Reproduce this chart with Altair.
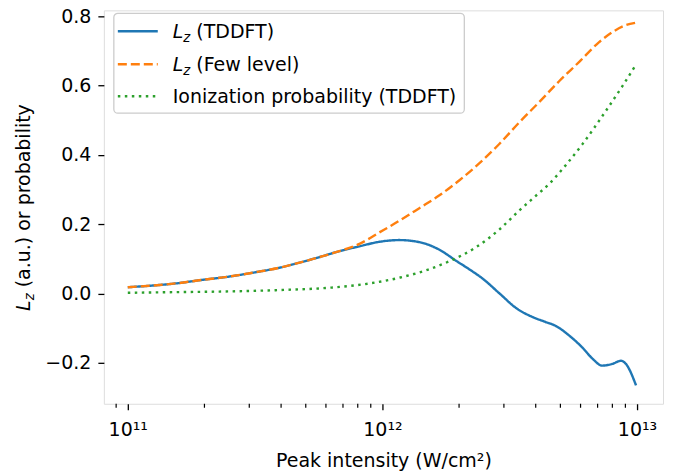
import altair as alt
import pandas as pd

# ---- data (x given as log10 of peak intensity in W/cm^2) ----
tddft_logI = [11.0, 11.1, 11.2, 11.28, 11.4, 11.5, 11.6, 11.675, 11.753, 11.831, 11.91, 11.988,
              12.067, 12.145, 12.224, 12.29, 12.353, 12.39, 12.46, 12.525, 12.59, 12.64,
              12.682, 12.733, 12.784, 12.825, 12.863, 12.903, 12.937, 12.956, 12.996]
tddft_Lz = [0.018, 0.023, 0.030, 0.038, 0.049, 0.061, 0.075, 0.089, 0.105, 0.122, 0.136, 0.149,
            0.154, 0.148, 0.126, 0.094, 0.064, 0.045, 0.000, -0.042, -0.068, -0.082,
            -0.094, -0.121, -0.155, -0.188, -0.208, -0.203, -0.194, -0.203, -0.265]

few_logI = [11.0, 11.1, 11.2, 11.28, 11.4, 11.5, 11.6, 11.675, 11.753, 11.831, 11.91, 11.988,
            12.067, 12.145, 12.224, 12.30, 12.38, 12.459, 12.537, 12.616, 12.694, 12.773,
            12.85, 12.9, 12.95, 12.996]
few_Lz = [0.018, 0.023, 0.030, 0.038, 0.049, 0.061, 0.075, 0.089, 0.105, 0.122, 0.143, 0.176,
          0.210, 0.246, 0.283, 0.325, 0.375, 0.431, 0.493, 0.552, 0.612, 0.668,
          0.724, 0.752, 0.772, 0.781]

ion_logI = [11.0, 11.2, 11.4, 11.6, 11.8, 11.95, 12.07, 12.18, 12.263, 12.367, 12.46, 12.537,
            12.6, 12.655, 12.72, 12.785, 12.878, 12.94, 12.996]
ion_P = [0.002, 0.004, 0.006, 0.010, 0.017, 0.029, 0.046, 0.069, 0.093, 0.133, 0.185, 0.239,
         0.280, 0.316, 0.370, 0.430, 0.527, 0.595, 0.660]

major_ticks = [1e11, 1e12, 1e13]
major_labels = ["10\u00b9\u00b9", "10\u00b9\u00b2", "10\u00b9\u00b3"]
minor_ticks = [9e10] + [k * 1e11 for k in range(2, 10)] + [k * 1e12 for k in range(2, 10)]
y_ticks = [-0.2, 0.0, 0.2, 0.4, 0.6, 0.8]

x_domain = [10 ** 10.906, 10 ** 13.102]
y_domain = [-0.318, 0.8164]

legend_suffix = ["(TDDFT)", "(Few level)", "Ionization probability (TDDFT)"]
colors = ["#1f77b4", "#ff7f0e", "#2ca02c"]
dashes = [[1, 0], [9, 4], [2.5, 4.5]]

FONT = "DejaVu Sans"
FS = 19

W, H = 560, 394

def frame(logI, vals):
    return pd.DataFrame({"I": [10 ** v for v in logI], "v": vals})

label_expr = "datum.value < 3e11 ? '%s' : datum.value < 3e12 ? '%s' : '%s'" % tuple(major_labels)

xscale = alt.Scale(type="log", domain=x_domain, nice=False)
yscale = alt.Scale(domain=y_domain, nice=False, zero=False)

xaxis = alt.Axis(values=major_ticks, labelExpr=label_expr, title="Peak intensity (W/cm\u00b2)",
                 titleFont=FONT, titleFontSize=FS, titleFontWeight="normal", titleColor="black",
                 labelFont=FONT, labelFontSize=FS, labelColor="black", labelFlush=False,
                 labelPadding=11, titlePadding=12, tickSize=6, tickColor="black", tickWidth=1.3,
                 domain=False, grid=False)
yaxis = alt.Axis(values=y_ticks, format=".1f", title=None, tickSize=6, labelPadding=7,
                 labelFont=FONT, labelFontSize=FS, labelColor="black", labelFlush=False,
                 tickColor="black", tickWidth=1.3, domain=False, grid=False)

layers = []
datasets = [(tddft_logI, tddft_Lz), (few_logI, few_Lz), (ion_logI, ion_P)]
for i, (lx, vals) in enumerate(datasets):
    layers.append(
        alt.Chart(frame(lx, vals)).mark_line(
            color=colors[i], strokeWidth=2.4, strokeDash=dashes[i], interpolate="monotone",
            strokeCap="butt"
        ).encode(x=alt.X("I:Q", scale=xscale, axis=xaxis),
                 y=alt.Y("v:Q", scale=yscale, axis=yaxis))
    )

# minor ticks on the log axis
minor_df = pd.DataFrame({"I": minor_ticks})
layers.append(
    alt.Chart(minor_df).mark_rule(color="black", strokeWidth=1.2).encode(
        x=alt.X("I:Q", scale=xscale, axis=xaxis), y=alt.value(H), y2=alt.value(H + 4)
    )
)

one = pd.DataFrame({"k": [0]})

# legend box
layers.append(
    alt.Chart(one).mark_rect(fill="white", fillOpacity=0.8, stroke="#cccccc", strokeWidth=1.3,
                             cornerRadius=4).encode(
        x=alt.value(10), x2=alt.value(361), y=alt.value(3), y2=alt.value(103)
    )
)
row_y = [21, 54, 86]
for i in range(3):
    layers.append(
        alt.Chart(one).mark_rule(color=colors[i], strokeWidth=2.4, strokeDash=dashes[i],
                                 strokeCap="butt").encode(
            x=alt.value(14), x2=alt.value(54), y=alt.value(row_y[i])
        )
    )
    base_y = row_y[i] + 7
    if i < 2:
        layers.append(alt.Chart(one).mark_text(text="L", font=FONT, fontSize=FS, fontStyle="italic",
                                               align="left", baseline="alphabetic", color="black")
                      .encode(x=alt.value(69), y=alt.value(base_y)))
        layers.append(alt.Chart(one).mark_text(text="z", font=FONT, fontSize=13.3, fontStyle="italic",
                                               align="left", baseline="alphabetic", color="black", dy=4)
                      .encode(x=alt.value(69 + 10.6), y=alt.value(base_y)))
        layers.append(alt.Chart(one).mark_text(text=legend_suffix[i], font=FONT, fontSize=FS,
                                               align="left", baseline="alphabetic", color="black")
                      .encode(x=alt.value(69 + 10.6 + 7 + 6), y=alt.value(base_y)))
    else:
        layers.append(alt.Chart(one).mark_text(text=legend_suffix[i], font=FONT, fontSize=FS,
                                               align="left", baseline="alphabetic", color="black")
                      .encode(x=alt.value(69), y=alt.value(base_y)))

# y-axis title with italic L and subscript z
yt_x, yt_y = -74, 301
layers.append(alt.Chart(one).mark_text(text="L", font=FONT, fontSize=FS, fontStyle="italic", angle=270,
                                       align="left", baseline="alphabetic", color="black")
              .encode(x=alt.value(yt_x), y=alt.value(yt_y)))
layers.append(alt.Chart(one).mark_text(text="z", font=FONT, fontSize=13.3, fontStyle="italic", angle=270,
                                       align="left", baseline="alphabetic", color="black", dx=10.6, dy=4)
              .encode(x=alt.value(yt_x), y=alt.value(yt_y)))
layers.append(alt.Chart(one).mark_text(text="(a.u.) or probability", font=FONT, fontSize=FS, angle=270,
                                       align="left", baseline="alphabetic", color="black", dx=23.6)
              .encode(x=alt.value(yt_x), y=alt.value(yt_y)))

chart = alt.layer(*layers).properties(
    width=W, height=H,
    autosize=alt.AutoSizeParams(type="none"),
    padding={"left": 96, "top": 2, "right": 10, "bottom": 72},
).configure_view(
    stroke="black", strokeWidth=1.5
).configure(background="white")

chart.save("out.html", embed_options={"renderer": "svg", "actions": False})
